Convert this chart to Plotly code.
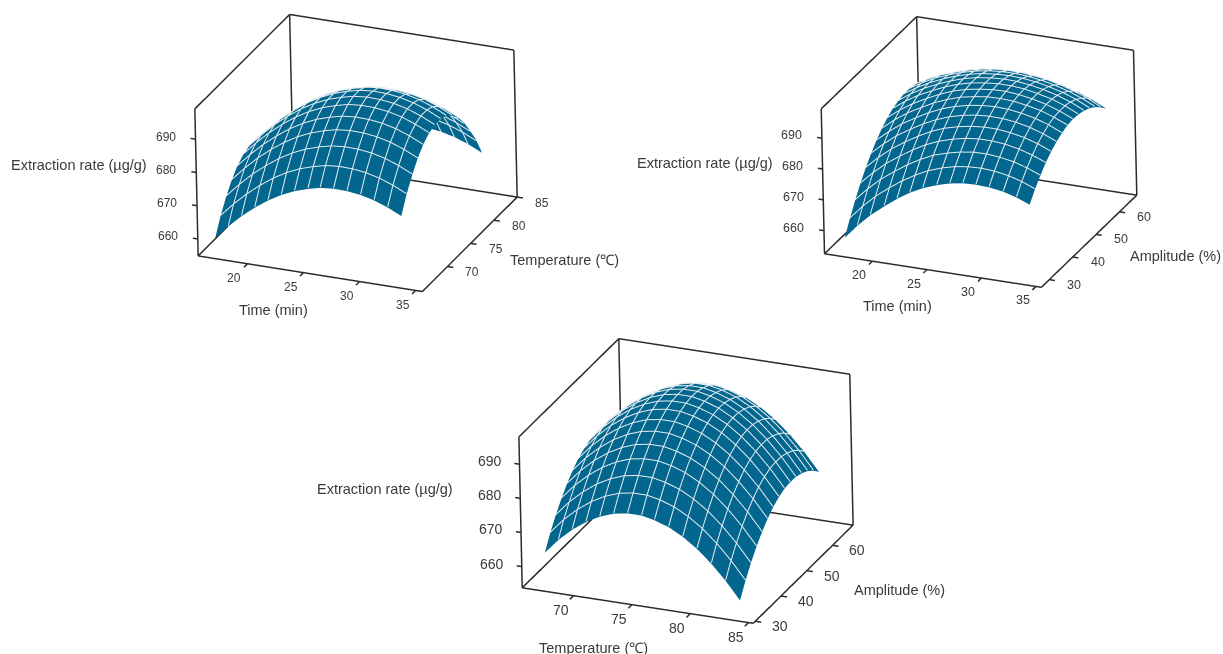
import plotly.graph_objects as go

# ---------- Panel 1: Time / Temperature ----------
time_1 = [16.7,17.9,19.1,20.3,21.5,22.7,23.9,25.1,26.2,27.4,28.6,29.8,31.0,32.2,33.4]
temp_1 = [65.7,66.9,68.2,69.4,70.6,71.9,73.1,74.4,75.6,76.8,78.1,79.3,80.5,81.8,83.0]
rate_1 = [
[659.4,663.5,667.2,670.4,673.2,675.5,677.3,678.6,679.5,679.9,679.8,679.3,678.3,676.8,674.9],
[664.2,668.3,672.0,675.2,678.0,680.3,682.1,683.4,684.3,684.7,684.6,684.1,683.1,681.6,679.7],
[668.3,672.4,676.1,679.3,682.1,684.4,686.2,687.5,688.4,688.8,688.7,688.2,687.2,685.7,683.8],
[671.5,675.6,679.3,682.5,685.3,687.6,689.4,690.7,691.6,692.0,691.9,691.4,690.4,688.9,687.0],
[673.9,678.0,681.7,684.9,687.7,690.0,691.8,693.1,694.0,694.4,694.3,693.8,692.8,691.3,689.4],
[675.6,679.7,683.4,686.6,689.4,691.7,693.5,694.8,695.7,696.1,696.0,695.5,694.5,693.0,691.1],
[676.4,680.5,684.2,687.4,690.2,692.5,694.3,695.6,696.5,696.9,696.8,696.3,695.3,693.8,691.9],
[676.4,680.5,684.2,687.4,690.2,692.5,694.3,695.6,696.5,696.9,696.8,696.3,695.3,693.8,691.9],
[675.7,679.8,683.5,686.7,689.5,691.8,693.6,694.9,695.8,696.2,696.1,695.6,694.6,693.1,691.2],
[674.1,678.2,681.9,685.1,687.9,690.2,692.0,693.3,694.2,694.6,694.5,694.0,693.0,691.5,689.6],
[671.7,675.8,679.5,682.7,685.5,687.8,689.6,690.9,691.8,692.2,692.1,691.6,690.6,689.1,687.2],
[668.6,672.7,676.4,679.6,682.4,684.7,686.5,687.8,688.7,689.1,689.0,688.5,687.5,686.0,684.1],
[664.6,668.7,672.4,675.6,678.4,680.7,682.5,683.8,684.7,685.1,685.0,684.5,683.5,682.0,680.1],
[659.9,664.0,667.7,670.9,673.7,676.0,677.8,679.1,680.0,680.4,680.3,679.8,678.8,677.3,675.4],
[655.0,658.4,662.1,665.3,668.1,670.4,672.2,673.5,674.4,674.8,674.7,674.2,673.2,671.7,669.8],
]

# ---------- Panel 2: Time / Amplitude ----------
time_2 = [16.9,18.1,19.3,20.6,21.8,23.0,24.2,25.5,26.7,27.9,29.1,30.3,31.6,32.8,34.0]
amp_2 = [29.3,31.65,34.0,36.35,38.7,41.05,43.4,45.75,48.1,50.45,52.8,55.15,57.5,59.85,62.2]
rate_2 = [
[656.4,661.0,665.0,668.6,671.7,674.4,676.5,678.2,679.4,680.1,680.3,680.1,679.4,678.2,676.5],
[660.9,665.3,669.2,672.7,675.6,678.1,680.2,681.8,682.9,683.5,683.7,683.4,682.6,681.4,679.7],
[665.1,669.3,673.0,676.3,679.1,681.5,683.5,684.9,685.9,686.5,686.6,686.2,685.4,684.1,682.4],
[668.8,672.8,676.4,679.5,682.2,684.5,686.3,687.7,688.6,689.1,689.1,688.7,687.8,686.5,684.8],
[672.1,676.0,679.4,682.4,684.9,687.1,688.8,690.0,690.8,691.2,691.2,690.7,689.8,688.5,686.7],
[675.0,678.7,682.0,684.8,687.2,689.2,690.8,692.0,692.7,693.0,692.9,692.4,691.4,690.0,688.2],
[677.5,681.0,684.1,686.8,689.1,691.0,692.4,693.5,694.1,694.4,694.2,693.6,692.6,691.2,689.3],
[679.6,683.0,685.9,688.4,690.6,692.3,693.7,694.6,695.2,695.3,695.1,694.4,693.4,691.9,690.1],
[681.3,684.5,687.2,689.6,691.6,693.3,694.5,695.3,695.8,695.9,695.5,694.8,693.7,692.2,690.4],
[682.6,685.6,688.2,690.4,692.3,693.8,694.9,695.6,696.0,696.0,695.6,694.8,693.7,692.2,690.2],
[683.4,686.3,688.7,690.8,692.5,693.9,694.9,695.5,695.8,695.7,695.2,694.4,693.2,691.7,689.7],
[683.9,686.5,688.8,690.8,692.4,693.6,694.5,695.0,695.2,695.0,694.5,693.6,692.4,690.8,688.8],
[683.9,686.4,688.6,690.4,691.8,692.9,693.7,694.1,694.2,693.9,693.3,692.4,691.1,689.5,687.5],
[683.6,685.9,687.9,689.5,690.8,691.8,692.5,692.8,692.8,692.4,691.8,690.8,689.4,687.8,685.7],
[682.8,684.9,686.8,688.3,689.4,690.3,690.8,691.1,691.0,690.5,689.8,688.7,687.3,685.6,683.6],
]

# ---------- Panel 3: Temperature / Amplitude ----------
temp_3 = [67.0,68.2,69.4,70.6,71.8,73.0,74.2,75.4,76.5,77.7,78.9,80.1,81.3,82.5,83.7]
amp_3 = [31.9,34.1,36.3,38.6,40.8,43.0,45.2,47.5,49.7,51.9,54.1,56.3,58.6,60.8,63.0]
rate_3 = [
[662.8,667.2,670.8,673.7,675.9,677.4,678.1,678.1,677.3,675.9,673.7,670.8,667.1,662.7,657.6],
[666.9,671.3,674.9,677.8,680.0,681.5,682.2,682.2,681.4,680.0,677.8,674.9,671.2,666.8,661.7],
[670.4,674.8,678.4,681.3,683.5,685.0,685.7,685.7,684.9,683.5,681.3,678.4,674.7,670.3,665.2],
[673.6,678.0,681.6,684.5,686.7,688.2,688.9,688.9,688.1,686.7,684.5,681.6,677.9,673.5,668.4],
[676.2,680.6,684.2,687.1,689.3,690.8,691.5,691.5,690.7,689.3,687.1,684.2,680.5,676.1,671.0],
[678.4,682.8,686.4,689.3,691.5,693.0,693.7,693.7,692.9,691.5,689.3,686.4,682.7,678.3,673.2],
[680.2,684.6,688.2,691.1,693.3,694.8,695.5,695.5,694.7,693.3,691.1,688.2,684.5,680.1,675.0],
[681.5,685.9,689.5,692.4,694.6,696.1,696.8,696.8,696.0,694.6,692.4,689.5,685.8,681.4,676.3],
[682.3,686.7,690.3,693.2,695.4,696.9,697.6,697.6,696.8,695.4,693.2,690.3,686.6,682.2,677.1],
[682.6,687.0,690.6,693.5,695.7,697.2,697.9,697.9,697.1,695.7,693.5,690.6,686.9,682.5,677.4],
[682.5,686.9,690.5,693.4,695.6,697.1,697.8,697.8,697.0,695.6,693.4,690.5,686.8,682.4,677.3],
[681.9,686.3,689.9,692.8,695.0,696.5,697.2,697.2,696.4,695.0,692.8,689.9,686.2,681.8,676.7],
[680.9,685.3,688.9,691.8,694.0,695.5,696.2,696.2,695.4,694.0,691.8,688.9,685.2,680.8,675.7],
[679.4,683.8,687.4,690.3,692.5,694.0,694.7,694.7,693.9,692.5,690.3,687.4,683.7,679.3,674.2],
[677.4,681.8,685.4,688.3,690.5,692.0,692.7,692.7,691.9,690.5,688.3,685.4,681.7,677.3,672.2],
]

time_ticks = [20, 25, 30, 35]
temp_ticks = [70, 75, 80, 85]
amp_ticks = [30, 40, 50, 60]
rate_ticks = [660, 670, 680, 690]

SURFACE = "#03668f"
GRID = "#e6eef2"
LINE = "#2b2b2b"
TEXT = "#3a3a3a"
FONT = "Liberation Sans"
W, H = 1223, 654
PAD = 0.04
LIFT = 0.25

panels = [
    dict(scene="scene", x=time_1, y=temp_1, z=rate_1, xt=time_ticks, yt=temp_ticks,
         xr=[15.6, 35.6], yr=[64.6, 85.0], zr=[654.9, 699.1], tf=12,
         px=(116, 596), py=(3, 303), eye=(0.364, -0.833, 0.4163), up=(0.0187, 0.0082, 1), ar=(1.625, 1.613, 1.078)),
    dict(scene="scene2", x=time_2, y=amp_2, z=rate_2, xt=time_ticks, yt=amp_ticks,
         xr=[15.6, 35.5], yr=[26.6, 67.4], zr=[652.5, 699.5], tf=12.5,
         px=(739, 1219), py=(1.5, 301.5), eye=(0.3675, -0.8372, 0.4053), up=(0.0189, 0.0083, 1), ar=(1.573, 1.617, 1.057)),
    dict(scene="scene3", x=temp_3, y=amp_3, z=rate_3, xt=temp_ticks, yt=amp_ticks,
         xr=[65.6, 85.4], yr=[29.2, 68.0], zr=[653.8, 698.0], tf=14,
         px=(446, 926), py=(330.5, 630.5), eye=(0.3627, -0.8382, 0.4073), up=(0.0183, 0.0079, 1), ar=(1.672, 1.712, 1.102)),
]
EYE_DIST = 3.0

labels = [
    ("Extraction rate (µg/g)", 78.5, 165), ("Time (min)", 273.7, 310), ("Temperature (℃)", 564, 260),
    ("Extraction rate (µg/g)", 704.6, 162.7), ("Time (min)", 897.7, 306), ("Amplitude (%)", 1175.8, 255.7),
    ("Extraction rate (µg/g)", 385.5, 489), ("Temperature (℃)", 593.7, 647.7), ("Amplitude (%)", 899.8, 590),
]

fig = go.Figure()
layout = {}
for p in panels:
    x0, x1 = p["xr"]; y0, y1 = p["yr"]; z0, z1 = p["zr"]
    dx, dy, dz = x1-x0, y1-y0, z1-z0
    xs = [x0,x1,None, x1,x1,None, x1,x0,None, x0,x0,None, x0,x0,None, x0,x1,None, x1,x1,None, x0,x0,None, x0,x0,None]
    ys = [y1,y1,None, y0,y1,None, y0,y0,None, y0,y0,None, y0,y1,None, y1,y1,None, y1,y1,None, y1,y1,None, y0,y1,None]
    zs = [z0,z0,None, z0,z0,None, z0,z0,None, z0,z1,None, z1,z1,None, z1,z1,None, z1,z0,None, z1,z0,None, z0,z0,None]
    for t in p["xt"]:
        xs += [t, t, None]; ys += [y0, y0-0.037*dy, None]; zs += [z0, z0, None]
    for t in p["yt"]:
        xs += [x1, x1+0.026*dx, None]; ys += [t, t, None]; zs += [z0, z0, None]
    for t in rate_ticks:
        xs += [x0, x0-0.022*dx, None]; ys += [y0, y0, None]; zs += [t, t, None]
    fig.add_trace(go.Surface(
        x=p["x"], y=p["y"], z=p["z"], scene=p["scene"],
        colorscale=[[0, SURFACE], [1, SURFACE]], showscale=False, hoverinfo="skip",
        lighting=dict(ambient=1, diffuse=0, specular=0, roughness=1, fresnel=0),
    ))
    # white mesh lines follow the surface table on both faces, leaving the outer boundary undrawn
    gx, gy, gz = [], [], []
    n = len(p["x"])
    for lift in (LIFT, -LIFT):
        for j in range(1, n-1):
            for i in range(n):
                gx.append(p["x"][i]); gy.append(p["y"][j]); gz.append(p["z"][j][i]+lift)
            gx.append(None); gy.append(None); gz.append(None)
        for i in range(1, n-1):
            for j in range(n):
                gx.append(p["x"][i]); gy.append(p["y"][j]); gz.append(p["z"][j][i]+lift)
            gx.append(None); gy.append(None); gz.append(None)
    fig.add_trace(go.Scatter3d(x=gx, y=gy, z=gz, mode="lines", scene=p["scene"], showlegend=False,
                               hoverinfo="skip", line=dict(color=GRID, width=2)))
    fig.add_trace(go.Scatter3d(x=xs, y=ys, z=zs, mode="lines", scene=p["scene"], showlegend=False,
                               hoverinfo="skip", line=dict(color=LINE, width=3)))
    def axis(lo, hi, pad):
        return dict(range=[lo-pad*(hi-lo), hi+pad*(hi-lo)], showticklabels=False, ticks="",
                    title=dict(text=""), showgrid=False, zeroline=False, showline=False,
                    showbackground=False, showspikes=False)
    font = dict(family=FONT, size=p["tf"], color=TEXT)
    notes = []
    for t in p["xt"]:
        notes.append(dict(x=t, y=y0, z=z0, text=str(t), showarrow=False, xshift=-13, yshift=-14.5, font=font))
    for t in p["yt"]:
        notes.append(dict(x=x1, y=t, z=z0, text=str(t), showarrow=False, xshift=25, yshift=-5.5, font=font))
    for t in rate_ticks:
        notes.append(dict(x=x0, y=y0, z=t, text=str(t), showarrow=False, xshift=-30, yshift=2.5, font=font))
    ex, ey, ez = p["eye"]
    ux, uy, uz = p["up"]
    layout[p["scene"]] = dict(
        domain=dict(x=[p["px"][0]/W, p["px"][1]/W], y=[1-p["py"][1]/H, 1-p["py"][0]/H]),
        xaxis=axis(x0, x1, PAD), yaxis=axis(y0, y1, PAD), zaxis=axis(z0, z1, 0.005),
        aspectmode="manual", dragmode="orbit",
        aspectratio=dict(x=p["ar"][0]*(1+2*PAD), y=p["ar"][1]*(1+2*PAD), z=p["ar"][2]*1.01),
        camera=dict(eye=dict(x=ex*EYE_DIST, y=ey*EYE_DIST, z=ez*EYE_DIST), up=dict(x=ux, y=uy, z=uz),
                    center=dict(x=0, y=0, z=0), projection=dict(type="orthographic")),
        bgcolor="white", annotations=notes,
    )

fig.update_layout(
    width=W, height=H, margin=dict(l=0, r=0, t=0, b=0), paper_bgcolor="white", showlegend=False,
    annotations=[dict(text=t, x=x/W, y=1-y/H, xref="paper", yref="paper", showarrow=False,
                      xanchor="center", yanchor="middle",
                      font=dict(family=FONT, size=14.5, color=TEXT)) for t, x, y in labels],
    **layout,
)
fig.write_html("out.html", config={"displayModeBar": False},
               post_script="document.body.style.margin='0';document.documentElement.style.overflow='hidden';")
